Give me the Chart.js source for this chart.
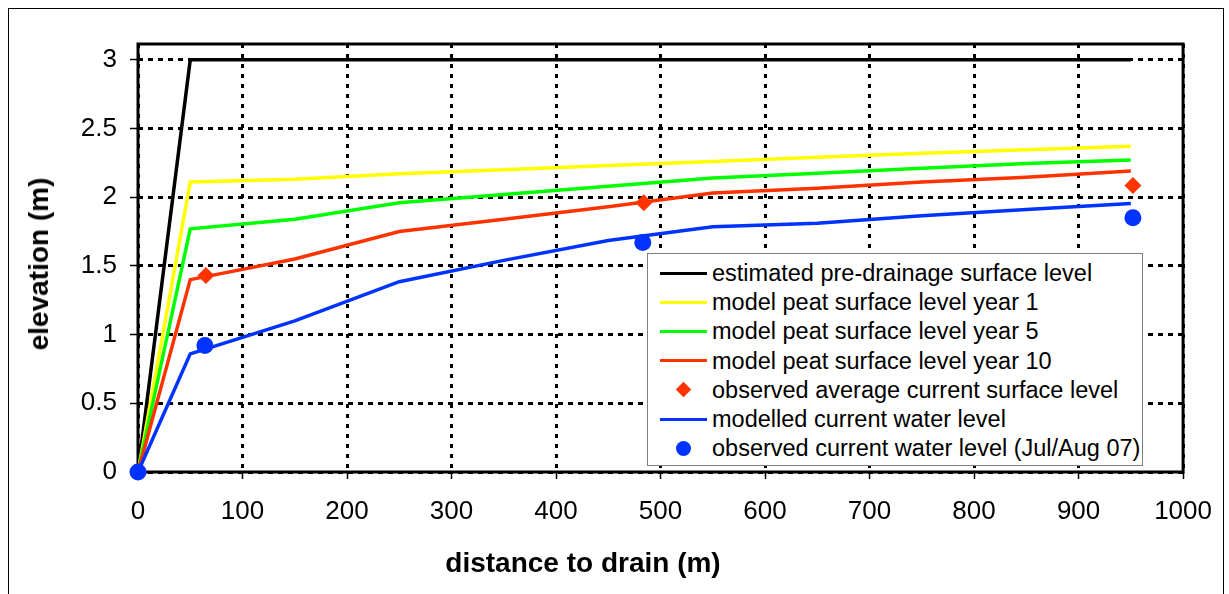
<!DOCTYPE html>
<html><head><meta charset="utf-8">
<script src="https://cdn.jsdelivr.net/npm/chart.js@4.4.1/dist/chart.umd.min.js"></script>
<style>
html,body{margin:0;padding:0;background:#fff;}
#wrap{position:relative;width:1229px;height:594px;overflow:hidden;font-family:"Liberation Sans",Arial,sans-serif;color:#000;}
#frame{position:absolute;left:8px;top:8px;width:1216px;height:600px;border:1px solid #000;box-sizing:border-box;}
#c{position:absolute;left:0;top:0;}
.axt{position:absolute;font-weight:bold;font-size:28px;white-space:nowrap;line-height:1;}
#xt{left:583px;top:563px;transform:translate(-50%,-50%);}
#yt{left:39px;top:264px;transform:translate(-50%,-50%) rotate(-90deg);}
#legend{position:absolute;left:647px;top:253px;width:496px;height:213px;border:1px solid #808080;background:#fff;box-sizing:border-box;}
.row{position:absolute;left:0;height:28px;width:100%;}
.sym{position:absolute;left:35px;top:14px;}
.line{position:absolute;left:-23px;top:-1.5px;width:47px;height:3px;}
.dia{position:absolute;left:-5.5px;top:-5.5px;width:11px;height:11px;transform:rotate(45deg);}
.dot{position:absolute;left:-7.5px;top:-7.5px;width:15px;height:15px;border-radius:50%;}
.txt{position:absolute;left:64px;top:0;font-size:23.5px;line-height:28px;white-space:nowrap;}
</style>
</head>
<body>
<div id="wrap">
  <div id="frame"></div>
  <canvas id="c" width="1229" height="594"></canvas>
  <div id="xt" class="axt">distance to drain (m)</div>
  <div id="yt" class="axt">elevation (m)</div>
  <div id="legend"></div>
</div>
<script>
// ---- data ----
const distance     = [0, 50, 150, 250, 350, 450, 550, 650, 750, 850, 950];
const preDrainage  = [0, 3, 3, 3, 3, 3, 3, 3, 3, 3, 3];
const peatYear1    = [0, 2.11, 2.13, 2.17, 2.20, 2.23, 2.26, 2.29, 2.32, 2.345, 2.37];
const peatYear5    = [0, 1.77, 1.84, 1.96, 2.02, 2.08, 2.14, 2.175, 2.21, 2.245, 2.27];
const peatYear10   = [0, 1.40, 1.55, 1.75, 1.84, 1.93, 2.03, 2.065, 2.11, 2.145, 2.19];
const modelWater   = [0, 0.86, 1.10, 1.385, 1.54, 1.685, 1.785, 1.81, 1.865, 1.91, 1.955];
const obsSurfaceDist  = [0, 65, 484, 952];
const obsSurfaceLevel = [0, 1.43, 1.96, 2.085];
const obsWaterDist    = [0, 64, 483, 952];
const obsWaterLevel   = [0, 0.92, 1.67, 1.85];
const xTicks = [0, 100, 200, 300, 400, 500, 600, 700, 800, 900, 1000];
const yTicks = [0, 0.5, 1, 1.5, 2, 2.5, 3];
const seriesNames = [
  'estimated pre-drainage surface level',
  'model peat surface level year 1',
  'model peat surface level year 5',
  'model peat surface level year 10',
  'observed average current surface level',
  'modelled current water level',
  'observed current water level (Jul/Aug 07)'
];

const pts = (xs, ys) => xs.map((x, i) => ({x, y: ys[i]}));
const lineDs = (label, ys, color, order) => ({
  label, data: pts(distance, ys), showLine: true, borderColor: color, backgroundColor: color,
  borderWidth: 3.5, pointRadius: 0, order, clip: false, tension: 0
});
const markDs = (label, xs, ys, color, style, order) => ({
  label, data: pts(xs, ys), showLine: false, pointStyle: style, pointRadius: 8.5,
  borderWidth: 0, backgroundColor: color, borderColor: color, order, clip: false
});

const datasets = [
  lineDs(seriesNames[0], preDrainage, '#000000', 7),
  lineDs(seriesNames[1], peatYear1, '#FFFF00', 6),
  lineDs(seriesNames[2], peatYear5, '#00FF00', 5),
  lineDs(seriesNames[3], peatYear10, '#FF3300', 4),
  markDs(seriesNames[4], obsSurfaceDist, obsSurfaceLevel, '#FF3300', 'rectRot', 3),
  lineDs(seriesNames[5], modelWater, '#0033FF', 2),
  markDs(seriesNames[6], obsWaterDist, obsWaterLevel, '#0033FF', 'circle', 1)
];

const plotBox = {
  id: 'plotBox',
  beforeDatasetsDraw(chart) {
    const {ctx, chartArea: a} = chart;
    ctx.save();
    ctx.strokeStyle = '#000';
    ctx.lineWidth = 3;
    ctx.strokeRect(a.left, a.top, a.right - a.left, a.bottom - a.top);
    ctx.restore();
  }
};

const tickFont = {family: '"Liberation Sans", Arial, sans-serif', size: 26};
const plain = v => String(v);

new Chart(document.getElementById('c'), {
  type: 'scatter',
  data: {datasets},
  options: {
    responsive: false,
    animation: false,
    devicePixelRatio: 1,
    layout: {padding: {top: 44, right: 44, left: 0, bottom: 0}},
    plugins: {legend: {display: false}, tooltip: {enabled: false}},
    scales: {
      x: {
        type: 'linear', min: 0, max: 1000,
        afterBuildTicks: s => { s.ticks = xTicks.map(v => ({value: v})); },
        afterFit: s => { s.height = 122; },
        ticks: {font: tickFont, color: '#000', padding: 17, maxRotation: 0, autoSkip: false, callback: plain},
        grid: {color: '#000', lineWidth: 3, drawTicks: true, tickLength: 7, tickColor: '#000', tickWidth: 1.5, tickBorderDash: []},
        border: {display: false, dash: [4, 6]}
      },
      y: {
        type: 'linear', min: 0, max: 3.115,
        afterBuildTicks: s => { s.ticks = yTicks.map(v => ({value: v})); },
        afterFit: s => { s.width = 138; },
        ticks: {font: tickFont, color: '#000', padding: 13, autoSkip: false, callback: plain},
        grid: {color: '#000', lineWidth: 3, drawTicks: true, tickLength: 8, tickColor: '#000', tickWidth: 1.5, tickBorderDash: []},
        border: {display: false, dash: [5, 5]}
      }
    }
  },
  plugins: [plotBox]
});

// HTML legend built from datasets
const leg = document.getElementById('legend');
datasets.forEach((ds, i) => {
  const row = document.createElement('div');
  row.className = 'row';
  row.style.top = (5 + i * 29.2) + 'px';
  const sym = document.createElement('div');
  sym.className = 'sym';
  const mk = document.createElement('div');
  mk.className = ds.showLine ? 'line' : (ds.pointStyle === 'circle' ? 'dot' : 'dia');
  mk.style.background = ds.borderColor;
  sym.appendChild(mk);
  const t = document.createElement('div');
  t.className = 'txt';
  t.textContent = ds.label;
  row.appendChild(sym);
  row.appendChild(t);
  leg.appendChild(row);
});
</script>
</body></html>
